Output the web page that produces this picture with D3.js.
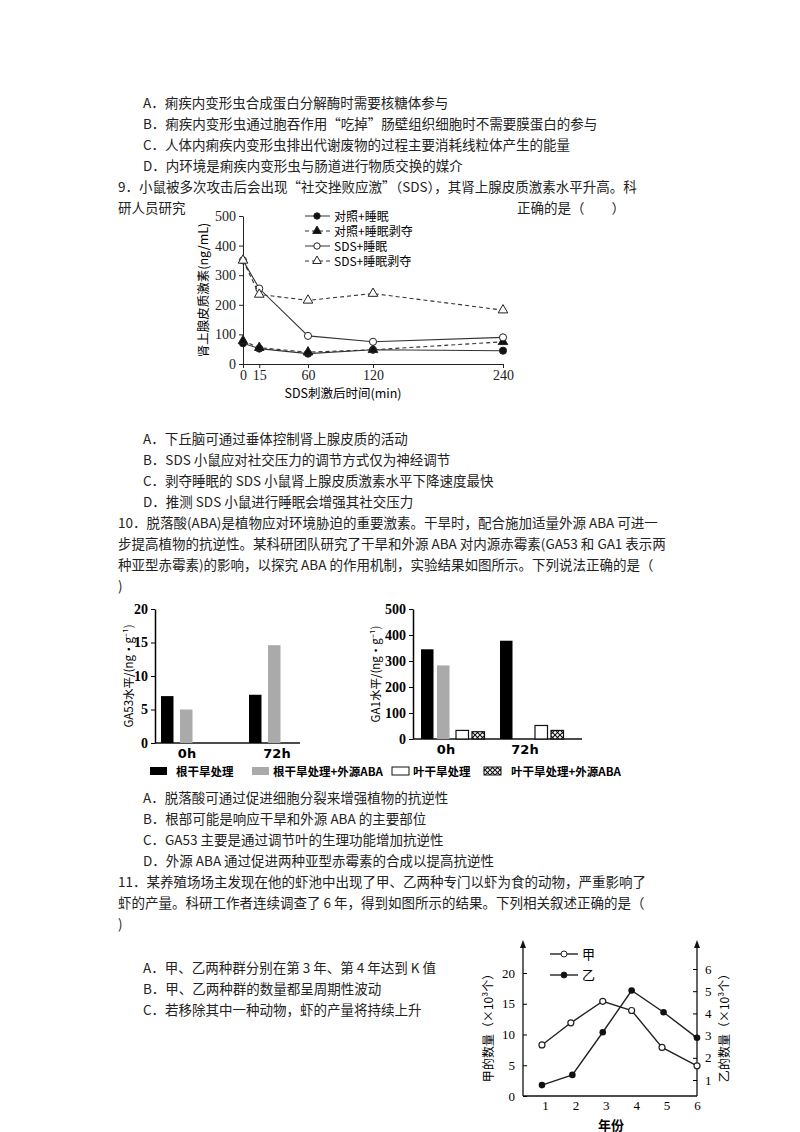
<!DOCTYPE html>
<html><head><meta charset="utf-8">
<script src="https://cdn.jsdelivr.net/npm/d3@7"></script>
<style>body{margin:0;background:#fff}svg{display:block}</style>
</head><body>
<script>
// ---------- data ----------
const lineTimes = [0, 15, 60, 120, 240];
const ctrlSleep = [70, 52, 35, 48, 45];
const ctrlDep = [78, 55, 40, 48, 75];
const sdsSleep = [350, 255, 95, 75, 90];
const sdsDep = [350, 235, 215, 238, 182];
const lineSeriesNames = ["对照+睡眠", "对照+睡眠剥夺", "SDS+睡眠", "SDS+睡眠剥夺"];

const barGroups = ["0h", "72h"];
const barSeries = ["根干旱处理", "根干旱处理+外源ABA", "叶干旱处理", "叶干旱处理+外源ABA"];
const ga53Values = [[7, 5, null, null], [7.2, 14.6, null, null]];
const ga1Values = [[345, 283, 33, 28], [378, 0, 52, 33]];

const years = [1, 2, 3, 4, 5, 6];
const jiaX = [0.9, 1.85, 2.9, 3.85, 4.85, 6];
const jiaVals = [8.3, 11.9, 15.4, 13.9, 7.9, 4.9];
const yiX = [0.9, 1.9, 2.9, 3.85, 4.9, 6];
const yiVals = [0.77, 1.23, 3.15, 5.03, 4.05, 2.9];

const textLines = [
 [143,108,"A．痢疾内变形虫合成蛋白分解酶时需要核糖体参与"],
 [143,129,"B．痢疾内变形虫通过胞吞作用“吃掉”肠壁组织细胞时不需要膜蛋白的参与"],
 [143,150,"C．人体内痢疾内变形虫排出代谢废物的过程主要消耗线粒体产生的能量"],
 [143,171,"D．内环境是痢疾内变形虫与肠道进行物质交换的媒介"],
 [118,192,"9．小鼠被多次攻击后会出现“社交挫败应激”（SDS），其肾上腺皮质激素水平升高。科"],
 [118,213,"研人员研究"],
 [517,213,"正确的是（　　）"],
 [143,444,"A．下丘脑可通过垂体控制肾上腺皮质的活动"],
 [143,465,"B．SDS 小鼠应对社交压力的调节方式仅为神经调节"],
 [143,486,"C．剥夺睡眠的 SDS 小鼠肾上腺皮质激素水平下降速度最快"],
 [143,507,"D．推测 SDS 小鼠进行睡眠会增强其社交压力"],
 [118,528,"10．脱落酸(ABA)是植物应对环境胁迫的重要激素。干旱时，配合施加适量外源 ABA 可进一"],
 [118,549,"步提高植物的抗逆性。某科研团队研究了干旱和外源 ABA 对内源赤霉素(GA53 和 GA1 表示两"],
 [118,570,"种亚型赤霉素)的影响，以探究 ABA 的作用机制，实验结果如图所示。下列说法正确的是（"],
 [118,591,")"],
 [143,803,"A．脱落酸可通过促进细胞分裂来增强植物的抗逆性"],
 [143,824,"B．根部可能是响应干旱和外源 ABA 的主要部位"],
 [143,845,"C．GA53 主要是通过调节叶的生理功能增加抗逆性"],
 [143,866,"D．外源 ABA 通过促进两种亚型赤霉素的合成以提高抗逆性"],
 [118,887,"11．某养殖场场主发现在他的虾池中出现了甲、乙两种专门以虾为食的动物，严重影响了"],
 [118,908,"虾的产量。科研工作者连续调查了 6 年，得到如图所示的结果。下列相关叙述正确的是（"],
 [118,929,")"],
 [143,973,"A．甲、乙两种群分别在第 3 年、第 4 年达到 K 值"],
 [143,994,"B．甲、乙两种群的数量都呈周期性波动"],
 [143,1015,"C．若移除其中一种动物，虾的产量将持续上升"]
];

const W = 800, H = 1132;
const svg = d3.select("body").append("svg").attr("width", W).attr("height", H);
const CJK = "'Noto Sans CJK SC', sans-serif";
const SER = "'Liberation Serif', serif";

svg.append("g").selectAll("text").data(textLines).join("text")
  .attr("x", d => d[0]).attr("y", d => d[1]).text(d => d[2])
  .attr("font-family", CJK).attr("font-size", 13.5).attr("fill", "#222");

// ---------- chart 1 ----------
svg.append("rect").attr("x", 196).attr("y", 200).attr("width", 312).attr("height", 205).attr("fill", "#fff");
const g1 = svg.append("g").attr("font-family", SER);
const x1 = d3.scaleLinear().domain([0, 240]).range([243, 503]);
const y1 = d3.scaleLinear().domain([0, 500]).range([364, 216]);
g1.append("g").attr("transform", "translate(0,364)")
  .call(d3.axisBottom(x1).tickValues(lineTimes).tickSize(4).tickSizeOuter(0).tickPadding(2))
  .call(a => a.selectAll("text").attr("font-size", 14).attr("font-family", SER).attr("fill", "#222"));
g1.append("g").attr("transform", "translate(243,0)")
  .call(d3.axisLeft(y1).tickValues([0, 100, 200, 300, 400, 500]).tickSize(4).tickSizeOuter(0))
  .call(a => a.selectAll("text").attr("font-size", 14).attr("font-family", SER).attr("fill", "#222"));
g1.selectAll(".domain,.tick line").attr("stroke", "#222");
g1.append("text").attr("transform", "translate(208,290) rotate(-90)").attr("text-anchor", "middle")
  .attr("font-size", 12.5).attr("font-family", CJK).text("肾上腺皮质激素(ng/mL)");
g1.append("text").attr("x", 343).attr("y", 398).attr("text-anchor", "middle")
  .attr("font-size", 12.5).attr("font-family", CJK).text("SDS刺激后时间(min)");
const lseries = [
  {v: ctrlSleep, dash: null, sym: d3.symbolCircle, fill: "#111"},
  {v: ctrlDep, dash: "4,3", sym: d3.symbolTriangle, fill: "#111"},
  {v: sdsSleep, dash: null, sym: d3.symbolCircle, fill: "#fff"},
  {v: sdsDep, dash: "4,3", sym: d3.symbolTriangle, fill: "#fff"}
];
const ln = d3.line().x((d, i) => x1(lineTimes[i])).y(d => y1(d));
lseries.forEach((s, k) => {
  g1.append("path").attr("d", ln(s.v)).attr("fill", "none").attr("stroke", "#333").attr("stroke-width", 1.1)
    .attr("stroke-dasharray", s.dash);
  g1.selectAll(null).data(s.v).join("path")
    .attr("d", d3.symbol().type(s.sym).size(40))
    .attr("transform", (d, i) => `translate(${x1(lineTimes[i])},${y1(d)})`)
    .attr("fill", s.fill).attr("stroke", "#222").attr("stroke-width", 1);
  const ly = 216 + k * 15;
  g1.append("line").attr("x1", 305).attr("x2", 330).attr("y1", ly).attr("y2", ly)
    .attr("stroke", "#333").attr("stroke-dasharray", s.dash);
  g1.append("path").attr("d", d3.symbol().type(s.sym).size(32)).attr("transform", `translate(317,${ly})`)
    .attr("fill", s.fill).attr("stroke", "#222");
  g1.append("text").attr("x", 334).attr("y", ly + 4.5).attr("font-size", 12).attr("font-family", CJK)
    .text(lineSeriesNames[k]);
});

// ---------- bar charts ----------
const defs = svg.append("defs");
const pat = defs.append("pattern").attr("id", "hatch").attr("width", 5).attr("height", 5)
  .attr("patternUnits", "userSpaceOnUse");
pat.append("rect").attr("width", 5).attr("height", 5).attr("fill", "#fff");
pat.append("path").attr("d", "M0,0L5,5M5,0L0,5").attr("stroke", "#111").attr("stroke-width", 1.1);
const fills = ["#000", "#aaa", "#fff", "url(#hatch)"];

function barChart(vals, x0, xEnd, yTop, yBot, ymax, tickStep, groupCenters, barXs, label, labelX) {
  const g = svg.append("g").attr("font-family", SER);
  const y = d3.scaleLinear().domain([0, ymax]).range([yBot, yTop]);
  g.append("g").attr("transform", `translate(${x0},0)`)
    .call(d3.axisLeft(y).tickValues(d3.range(0, ymax + 1, tickStep)).tickSize(4).tickSizeOuter(0))
    .call(a => a.selectAll("text").attr("font-size", 14).attr("font-weight", "bold").attr("font-family", SER));
  g.append("line").attr("x1", x0).attr("x2", xEnd).attr("y1", yBot).attr("y2", yBot).attr("stroke", "#111").attr("stroke-width", 1.5);
  g.selectAll(".domain").attr("stroke-width", 1.5);
  barGroups.forEach((gr, gi) => {
    g.append("text").attr("x", groupCenters[gi]).attr("y", yBot + 15).attr("text-anchor", "middle")
      .attr("font-size", 13).attr("font-weight", "bold").attr("font-family", "'DejaVu Sans', sans-serif").text(gr);
    vals[gi].forEach((v, si) => {
      if (v === null || v === 0) return;
      g.append("rect").attr("x", barXs[gi][si]).attr("width", 12.5)
        .attr("y", y(v)).attr("height", yBot - y(v))
        .attr("fill", fills[si]).attr("stroke", si >= 2 ? "#111" : "none").attr("stroke-width", 1.2);
    });
  });
  g.append("text").attr("transform", `translate(${labelX},${(yTop + yBot) / 2}) rotate(-90)`)
    .attr("text-anchor", "middle").attr("font-size", 11.5).attr("font-family", CJK).text(label);
}
barChart(ga53Values, 155, 300, 609, 743, 20, 5, [187, 277],
  [[161, 180], [249, 268]], "GA53水平/(ng·g⁻¹)", 133);
barChart(ga1Values, 413, 582, 609, 739, 500, 100, [446, 525],
  [[421, 437, 456, 472], [500, 516, 535, 551]], "GA1水平/(ng·g⁻¹)", 380);

const legX = [150, 252, 392, 484];
const legTX = [176, 273, 413, 511];
barSeries.forEach((s, i) => {
  svg.append("rect").attr("x", legX[i]).attr("y", 767).attr("width", 17).attr("height", 8)
    .attr("fill", fills[i]).attr("stroke", i >= 2 ? "#111" : "none");
  svg.append("text").attr("x", legTX[i]).attr("y", 776).attr("font-size", 11.5).attr("font-weight", "bold")
    .attr("font-family", CJK).text(s);
});

// ---------- chart 3 ----------
const g3 = svg.append("g").attr("font-family", SER);
const x3 = d3.scaleLinear().domain([1, 6]).range([545, 697]);
const yl = d3.scaleLinear().domain([0, 20]).range([1096, 973]);
const yr = d3.scaleLinear().domain([1, 6]).range([1080, 969]);
g3.append("line").attr("x1", 523).attr("x2", 697).attr("y1", 1096).attr("y2", 1096).attr("stroke", "#111").attr("stroke-width", 1.3);
[523, 697].forEach(xx => {
  g3.append("line").attr("x1", xx).attr("x2", xx).attr("y1", 1096).attr("y2", 946).attr("stroke", "#111").attr("stroke-width", 1.3);
  g3.append("path").attr("d", `M${xx - 3},948L${xx},940L${xx + 3},948Z`).attr("fill", "#111");
});
g3.append("g").attr("transform", "translate(523,0)")
  .call(d3.axisLeft(yl).tickValues([0, 5, 10, 15, 20]).tickSize(-4).tickSizeOuter(0).tickPadding(8))
  .call(a => a.select(".domain").remove())
  .call(a => a.selectAll("text").attr("font-size", 13).attr("font-family", SER));
g3.append("g").attr("transform", "translate(697,0)")
  .call(d3.axisRight(yr).tickValues([1, 2, 3, 4, 5, 6]).tickFormat(d3.format("d")).tickSize(-4).tickSizeOuter(0).tickPadding(8))
  .call(a => a.select(".domain").remove())
  .call(a => a.selectAll("text").attr("font-size", 13).attr("font-family", SER));
g3.append("g").attr("transform", "translate(0,1096)")
  .call(d3.axisBottom(x3).tickValues(years).tickFormat(d3.format("d")).tickSize(0).tickPadding(5))
  .call(a => a.select(".domain").remove())
  .call(a => a.selectAll("text").attr("font-size", 13).attr("font-family", SER));
const lj = d3.line().x((d, i) => x3(jiaX[i])).y(d => yl(d));
const ly3 = d3.line().x((d, i) => x3(yiX[i])).y(d => yr(d));
g3.append("path").attr("d", lj(jiaVals)).attr("fill", "none").attr("stroke", "#222").attr("stroke-width", 1.4);
g3.append("path").attr("d", ly3(yiVals)).attr("fill", "none").attr("stroke", "#222").attr("stroke-width", 1.4);
g3.selectAll(null).data(jiaVals).join("circle").attr("cx", (d, i) => x3(jiaX[i])).attr("cy", d => yl(d))
  .attr("r", 3).attr("fill", "#fff").attr("stroke", "#222").attr("stroke-width", 1.2);
g3.selectAll(null).data(yiVals).join("circle").attr("cx", (d, i) => x3(yiX[i])).attr("cy", d => yr(d))
  .attr("r", 3.3).attr("fill", "#111");
[["甲", "#fff", 954], ["乙", "#111", 975]].forEach(([n, f, yy]) => {
  g3.append("line").attr("x1", 550).attr("x2", 578).attr("y1", yy).attr("y2", yy).attr("stroke", "#222").attr("stroke-width", 1.4);
  g3.append("circle").attr("cx", 564).attr("cy", yy).attr("r", 3).attr("fill", f).attr("stroke", "#222");
  g3.append("text").attr("x", 582).attr("y", yy + 5).attr("font-size", 13).attr("font-family", CJK).text(n);
});
g3.append("text").attr("transform", "translate(493,1025) rotate(-90)").attr("text-anchor", "middle")
  .attr("font-size", 12).attr("font-family", CJK).text("甲的数量（×10³个）");
g3.append("text").attr("transform", "translate(729,1025) rotate(-90)").attr("text-anchor", "middle")
  .attr("font-size", 12).attr("font-family", CJK).text("乙的数量（×10³个）");
g3.append("text").attr("x", 611).attr("y", 1130).attr("text-anchor", "middle")
  .attr("font-size", 13).attr("font-weight", "bold").attr("font-family", CJK).text("年份");
</script>
</body></html>
